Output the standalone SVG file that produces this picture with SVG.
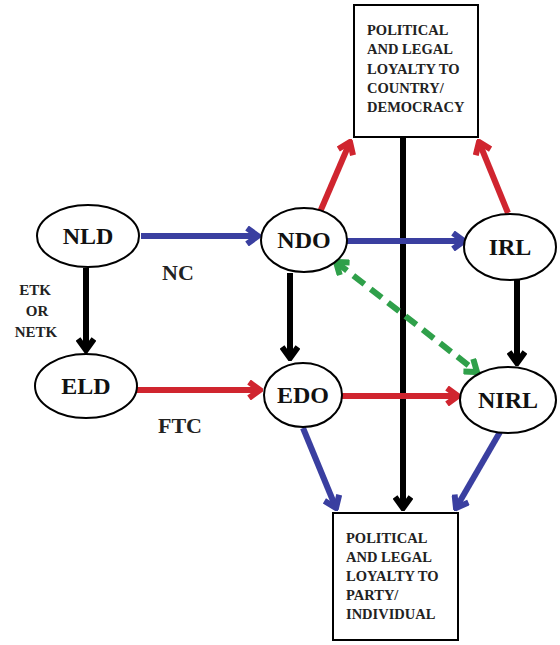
<svg xmlns="http://www.w3.org/2000/svg" width="560" height="645" viewBox="0 0 560 645">
<style>
text{font-family:"Liberation Serif","Times New Roman","DejaVu Serif",serif;font-weight:bold}
.node ellipse{fill:#fff;stroke:#000;stroke-width:2}
.node text{font-size:24px;text-anchor:middle;fill:#111}
.box rect{fill:#fff;stroke:#000;stroke-width:2}
.box text{font-size:14.5px;fill:#222}
.lbl{fill:#222}
.c{fill:none;stroke-width:6}
.blue{stroke:#3a3fa0;marker-end:url(#ab)}
.red{stroke:#d0252f;marker-end:url(#ar)}
.blk{stroke:#000;marker-end:url(#ak)}
.grn{stroke:#2fa04a;stroke-dasharray:14 8;marker-end:url(#ag);marker-start:url(#ag)}
</style>
<defs>
<marker id="ab" viewBox="-14 -10 17 20" markerWidth="17" markerHeight="20" refX="0" refY="0" orient="auto-start-reverse" markerUnits="userSpaceOnUse"><path d="M-11,-8 L0,0 L-11,8" fill="none" stroke="#3a3fa0" stroke-width="6"/></marker>
<marker id="ar" viewBox="-14 -10 17 20" markerWidth="17" markerHeight="20" refX="0" refY="0" orient="auto-start-reverse" markerUnits="userSpaceOnUse"><path d="M-11,-8 L0,0 L-11,8" fill="none" stroke="#d0252f" stroke-width="6"/></marker>
<marker id="ak" viewBox="-14 -10 17 20" markerWidth="17" markerHeight="20" refX="0" refY="0" orient="auto-start-reverse" markerUnits="userSpaceOnUse"><path d="M-11,-8 L0,0 L-11,8" fill="none" stroke="#000" stroke-width="6"/></marker>
<marker id="ag" viewBox="-14 -10 17 20" markerWidth="17" markerHeight="20" refX="0" refY="0" orient="auto-start-reverse" markerUnits="userSpaceOnUse"><path d="M-11,-8 L0,0 L-11,8" fill="none" stroke="#2fa04a" stroke-width="6"/></marker>
</defs>
<rect width="560" height="645" fill="#fff"/>
<g id="connectors">
<line class="c blk" x1="403" y1="137" x2="403" y2="508"/>
<line class="c blue" x1="141" y1="236" x2="258" y2="236"/>
<line class="c blk" x1="86" y1="268" x2="86" y2="350"/>
<line class="c red" x1="137" y1="390" x2="260" y2="390"/>
<line class="c blk" x1="290" y1="273" x2="290" y2="358"/>
<line class="c blue" x1="346" y1="241" x2="464" y2="241"/>
<line class="c red" x1="341" y1="396" x2="458" y2="396"/>
<line class="c blk" x1="517" y1="280" x2="517" y2="363"/>
<line class="c grn" x1="336" y1="262" x2="477" y2="372"/>
<line class="c red" x1="320" y1="212" x2="350" y2="142"/>
<line class="c red" x1="508" y1="213" x2="479" y2="142"/>
<line class="c blue" x1="303" y1="428" x2="336" y2="508"/>
<line class="c blue" x1="500" y1="432" x2="456" y2="508"/>
</g>
<g id="box-country" class="box">
<rect x="354" y="5" width="124" height="132"/>
<text x="367" y="35">POLITICAL</text>
<text x="367" y="54">AND LEGAL</text>
<text x="367" y="74">LOYALTY TO</text>
<text x="367" y="93">COUNTRY/</text>
<text x="367" y="112">DEMOCRACY</text>
</g>
<g id="box-party" class="box">
<rect x="333" y="513" width="125" height="127"/>
<text x="346" y="543">POLITICAL</text>
<text x="346" y="562">AND LEGAL</text>
<text x="346" y="581">LOYALTY TO</text>
<text x="346" y="600">PARTY/</text>
<text x="346" y="619">INDIVIDUAL</text>
</g>
<g id="NLD" class="node"><ellipse cx="88" cy="236" rx="51" ry="31"/><text x="88" y="244">NLD</text></g>
<g id="ELD" class="node"><ellipse cx="86" cy="386" rx="51" ry="32"/><text x="86" y="394">ELD</text></g>
<g id="NDO" class="node"><ellipse cx="304" cy="240" rx="43" ry="32"/><text x="304" y="248">NDO</text></g>
<g id="IRL" class="node"><ellipse cx="510" cy="247" rx="46" ry="33"/><text x="510" y="255">IRL</text></g>
<g id="EDO" class="node"><ellipse cx="303" cy="395" rx="39" ry="32"/><text x="303" y="403">EDO</text></g>
<g id="NIRL" class="node"><ellipse cx="508" cy="400" rx="48" ry="33"/><text x="508" y="408">NIRL</text></g>
<g id="labels">
<text class="lbl" x="178" y="280" font-size="22" text-anchor="middle">NC</text>
<text class="lbl" x="180" y="433" font-size="22" text-anchor="middle">FTC</text>
<text class="lbl" x="35" y="295" font-size="15" text-anchor="middle">ETK</text>
<text class="lbl" x="37" y="316" font-size="15" text-anchor="middle">OR</text>
<text class="lbl" x="36" y="337" font-size="15" text-anchor="middle">NETK</text>
</g>
</svg>
